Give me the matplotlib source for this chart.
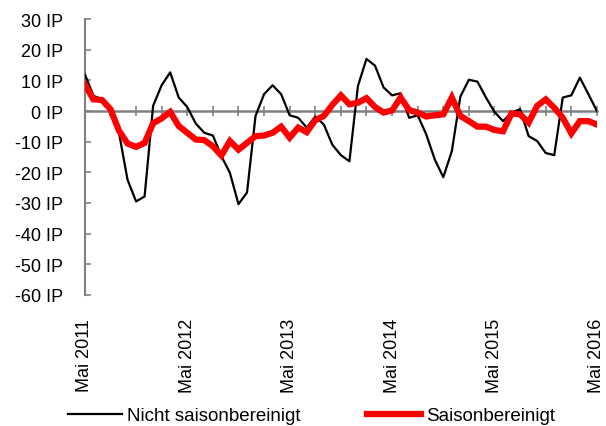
import matplotlib
matplotlib.use("Agg")
import matplotlib.pyplot as plt
import numpy as np

plt.rcParams['font.family'] = ['Liberation Sans', 'DejaVu Sans']

# monthly values, Mai 2011 .. Mai 2016 (index points)
nicht_saisonbereinigt = [12.0, 5.0, 3.8, 0.6, -7.1, -22.4, -29.5, -27.9, 1.7, 8.4,
                         12.6, 4.4, 1.3, -4.1, -7.1, -8.0, -14.7, -20.2, -30.4, -26.6,
                         -1.6, 5.5, 8.4, 5.5, -1.4, -2.2, -5.4, -1.8, -4.4, -11.0,
                         -14.4, -16.4, 8.2, 17.0, 14.8, 7.7, 5.1, 5.8, -2.2, -1.4,
                         -7.6, -15.8, -21.6, -13.1, 4.7, 10.2, 9.6, 4.4, -0.3, -3.3,
                         -0.5, 0.6, -8.2, -9.8, -13.7, -14.4, 4.4, 5.1, 10.9, 5.5, 0.0]
saisonbereinigt = [8.7, 3.8, 3.6, 0.6, -6.4, -10.6, -11.7, -10.4, -4.0, -2.4,
                   -0.3, -4.9, -7.1, -9.3, -9.5, -11.5, -14.5, -9.8, -12.6, -10.4,
                   -8.2, -8.0, -7.1, -5.1, -8.7, -5.4, -6.9, -3.0, -1.6, 2.0,
                   5.1, 2.2, 2.7, 4.2, 1.3, -0.5, 0.2, 4.4, 0.3, -0.5,
                   -1.8, -1.4, -1.1, 4.4, -1.6, -3.3, -5.1, -5.1, -6.2, -6.6,
                   -0.8, -1.1, -3.8, 1.7, 3.8, 1.1, -2.2, -7.3, -3.3, -3.3, -4.4]
year_labels = ["Mai 2011", "Mai 2012", "Mai 2013", "Mai 2014", "Mai 2015", "Mai 2016"]
y_ticks = [30, 20, 10, 0, -10, -20, -30, -40, -50, -60]

months = np.arange(len(saisonbereinigt))
grey = '#808080'

fig = plt.figure(figsize=(6.06, 4.27), dpi=100)
ax = fig.add_axes([0.140, 0.307, 0.845, 0.646])

ax.plot(months, nicht_saisonbereinigt, color='black', lw=1.6, label='Nicht saisonbereinigt', zorder=3)
ax.plot(months, saisonbereinigt, color='#ff0000', lw=4.5, label='Saisonbereinigt',
        solid_joinstyle='miter', zorder=4)

ax.set_xlim(0, 60)
ax.set_ylim(-60, 30)
ax.set_yticks(y_ticks)
ax.set_yticklabels([f"{v} IP" for v in y_ticks])

for s in ['top', 'right']:
    ax.spines[s].set_visible(False)
ax.spines['left'].set_color(grey)
ax.spines['left'].set_linewidth(1.5)
ax.spines['bottom'].set_position(('data', 0))
ax.spines['bottom'].set_color(grey)
ax.spines['bottom'].set_linewidth(1.8)
ax.spines['bottom'].set_zorder(2)

ax.tick_params(axis='y', direction='in', colors=grey, length=4, width=1.2,
               labelsize=13, labelcolor='black', pad=15.5)
ax.set_xticks(np.arange(0, 61, 3))
ax.tick_params(axis='x', direction='inout', length=7, width=1.2, colors=grey, labelbottom=False)

sec = ax.secondary_xaxis('bottom')
sec.spines['bottom'].set_visible(False)
sec.set_xticks(np.arange(0, 61, 12))
sec.set_xticklabels(year_labels, rotation=90)
sec.tick_params(length=0, pad=16.5, labelsize=13)

fig.legend(loc='center', bbox_to_anchor=(0.514, 0.024), ncol=2, frameon=False,
           fontsize=13.5, handlelength=2.9, handletextpad=0.27, columnspacing=3.5)

fig.savefig('out.png', dpi=100)
